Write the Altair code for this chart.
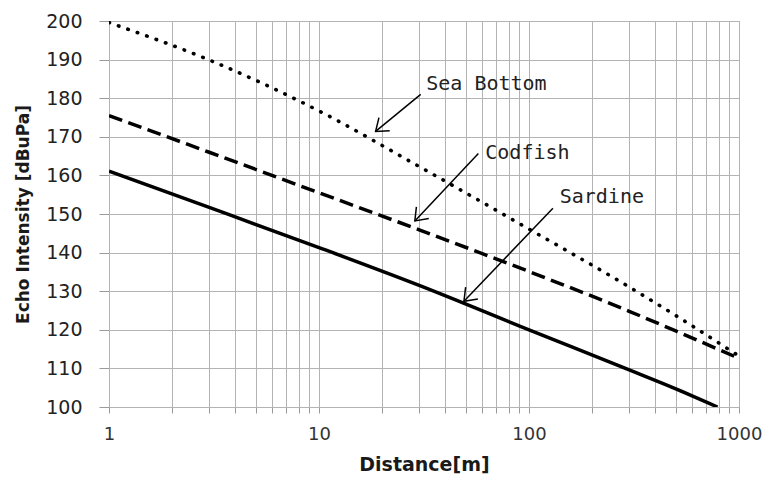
import math
import altair as alt
import pandas as pd

# ---- data ----
dist = [1, 3, 10, 30, 100, 300, 500, 1000]
sea_bottom = [199.6, 189.9, 176.7, 162.3, 146.1, 131.1, 123.7, 113.2]
codfish = [175.5, 166.0, 155.5, 145.9, 135.1, 124.8, 119.7, 112.6]
sardine_dist = [1, 3, 10, 30, 100, 300, 500, 790]
sardine = [161.1, 151.7, 141.3, 131.5, 120.0, 109.6, 104.7, 100.0]

labels = ["Sea Bottom", "Codfish", "Sardine"]
label_x = [32.4, 61.9, 140.0]
label_y = [182.1, 164.3, 152.9]
arrow_x0 = [30.5, 57.4, 130.0]
arrow_y0 = [181.0, 165.7, 151.5]
arrow_x1 = [18.6, 28.6, 49.0]
arrow_y1 = [171.4, 148.2, 127.4]

x_grid = [m * 10 ** e for e in range(3) for m in range(1, 10)] + [1000]
y_ticks = list(range(100, 201, 10))

W, H = 630, 386

def to_px(x, y):
    return W * math.log10(x) / 3, H * (200 - y) / 100

angles = []
for a, b, c, d in zip(arrow_x0, arrow_y0, arrow_x1, arrow_y1):
    p0 = to_px(a, b)
    p1 = to_px(c, d)
    dx, dy = p1[0] - p0[0], p1[1] - p0[1]
    angles.append(math.degrees(math.atan2(dx, -dy)) % 360)

sb_df = pd.DataFrame({"d": dist, "v": sea_bottom})
cf_df = pd.DataFrame({"d": dist, "v": codfish})
sd_df = pd.DataFrame({"d": sardine_dist, "v": sardine})
ann = pd.DataFrame({
    "label": labels, "lx": label_x, "ly": label_y,
    "x0": arrow_x0, "y0": arrow_y0, "x1": arrow_x1, "y1": arrow_y1,
    "ang": angles,
})

x_scale = alt.Scale(type="log", domain=[1, 1000], nice=False)
y_scale = alt.Scale(domain=[100, 200], nice=False, zero=False)

x_axis = alt.Axis(
    title="Distance[m]", values=x_grid,
    labelExpr="(datum.value == 1 || datum.value == 10 || datum.value == 100 || datum.value == 1000) ? format(datum.value, 'd') : ''",
    labelOverlap=False, labelFlush=False, tickSize=6, labelPadding=12,
    labelFont="DejaVu Sans", labelFontSize=18, labelColor="#333333",
    titleFont="DejaVu Sans", titleFontSize=19, titleFontWeight="bold", titleColor="#1a1a1a",
    titleX=315, titleY=63, titleAlign="center", titleBaseline="alphabetic",
)
y_axis = alt.Axis(
    title="Echo Intensity [dBuPa]", values=y_ticks, format="d",
    labelFlush=False, tickSize=10, labelPadding=17,
    labelFont="DejaVu Sans", labelFontSize=19, labelColor="#222222",
    titleFont="DejaVu Sans", titleFontSize=17, titleFontWeight="bold", titleColor="#1a1a1a",
    titleAngle=270, titleX=-81, titleY=193, titleAlign="center", titleBaseline="alphabetic",
)

def line(df, **kw):
    opts = dict(color="black", strokeWidth=3.5, clip=True, interpolate="monotone")
    opts.update(kw)
    return alt.Chart(df).mark_line(**opts).encode(
        x=alt.X("d:Q", scale=x_scale, axis=x_axis),
        y=alt.Y("v:Q", scale=y_scale, axis=y_axis),
    )

sb_line = line(sb_df, strokeDash=[0.5, 9.5], strokeCap="round", strokeWidth=3.6)
cf_line = line(cf_df, strokeDash=[14, 6.5], strokeCap="butt")
sd_line = line(sd_df)

base = alt.Chart(ann)
arrows = base.mark_rule(color="black", strokeWidth=1.5).encode(
    x=alt.X("x0:Q", scale=x_scale, axis=x_axis), y=alt.Y("y0:Q", scale=y_scale, axis=y_axis),
    x2="x1:Q", y2="y1:Q",
)
heads = base.mark_point(
    shape="M -0.6 0.8 L 0 0 L 0.6 0.8", filled=False, size=800,
    color="black", strokeWidth=1.5, opacity=1,
).encode(
    x=alt.X("x1:Q", scale=x_scale, axis=x_axis), y=alt.Y("y1:Q", scale=y_scale, axis=y_axis),
    angle=alt.Angle("ang:Q", scale=None),
)
texts = base.mark_text(
    align="left", baseline="alphabetic", font="DejaVu Sans Mono", fontSize=20, color="#222222",
).encode(
    x=alt.X("lx:Q", scale=x_scale, axis=x_axis), y=alt.Y("ly:Q", scale=y_scale, axis=y_axis),
    text="label:N",
)

chart = alt.layer(sb_line, cf_line, sd_line, arrows, heads, texts).properties(
    width=W, height=H,
    autosize=alt.AutoSizeParams(type="none"),
    padding={"left": 101, "top": 13, "right": 23, "bottom": 67},
).configure_axis(
    gridColor="#b3b3b3", gridWidth=1, domainColor="#b3b3b3", tickColor="#9a9a9a",
).configure_view(stroke="#b3b3b3")

chart.save("out.html", embed_options={"renderer": "svg", "actions": False})
